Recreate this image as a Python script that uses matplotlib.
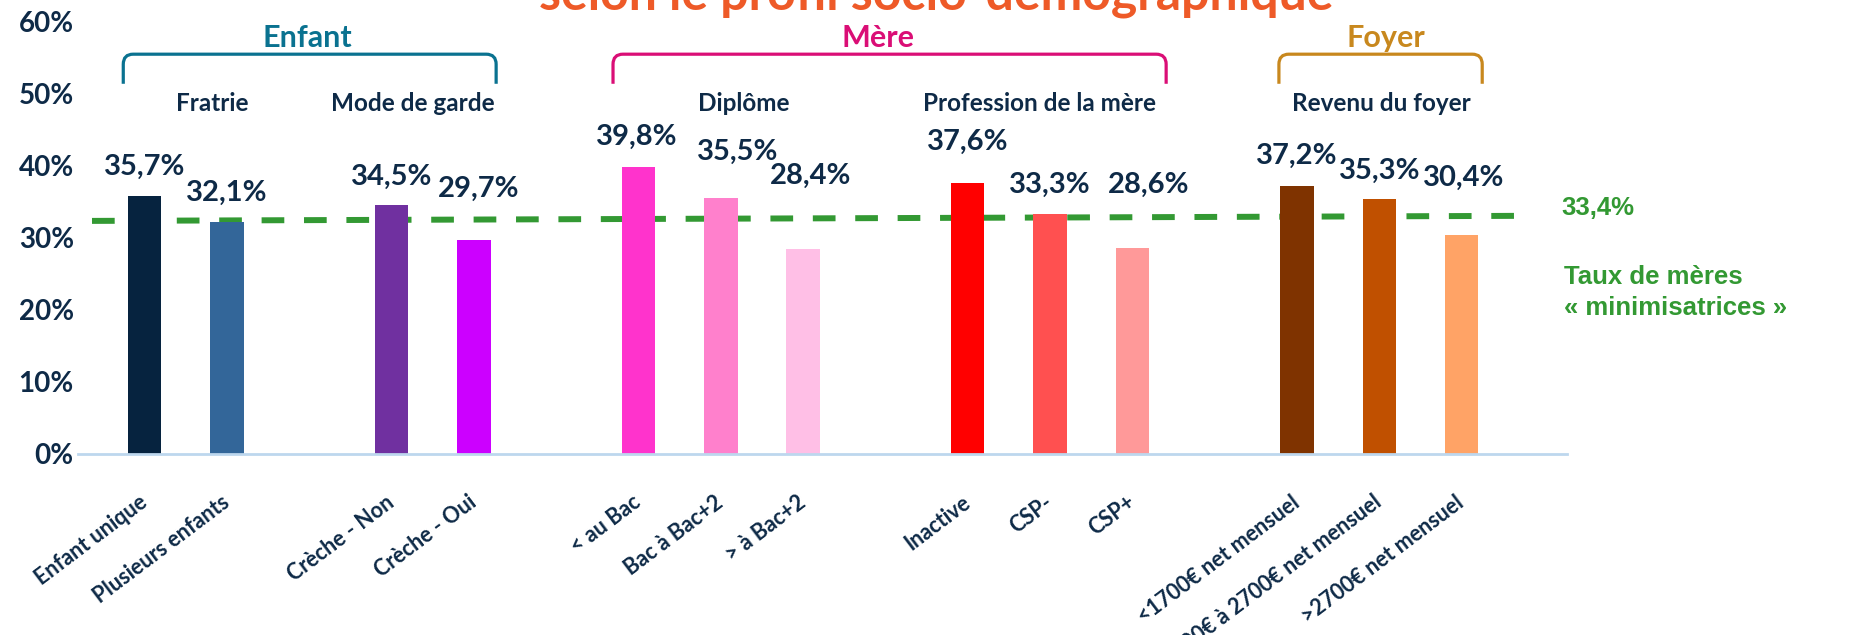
import numpy as np
import matplotlib
matplotlib.use("Agg")
import matplotlib.pyplot as plt
from matplotlib.path import Path
from matplotlib.patches import PathPatch

plt.rcParams['font.family'] = ['Lato', 'DejaVu Sans']

# ---- data ----
categories = ["Enfant unique", "Plusieurs enfants", "Crèche - Non", "Crèche - Oui",
              "< au Bac", "Bac à Bac+2", "> à Bac+2",
              "Inactive", "CSP-", "CSP+",
              "<1700€ net mensuel", "1700€ à 2700€ net mensuel", ">2700€ net mensuel"]
values = [35.7, 32.1, 34.5, 29.7, 39.8, 35.5, 28.4, 37.6, 33.3, 28.6, 37.2, 35.3, 30.4]
subgroups = ["Fratrie", "Mode de garde", "Diplôme", "Profession de la mère", "Revenu du foyer"]
subgroup_sizes = [2, 2, 3, 3, 3]
groups = ["Enfant", "Mère", "Foyer"]
avg_rate = 33.4
avg_line = [32.3, 33.0]   # dashed line as drawn (left end, right end)

# ---- style / layout ----
bar_colors = ["#06233F", "#336699", "#7030A0", "#CC00FF", "#FF33CC", "#FF80CC", "#FFBFE6",
              "#FF0000", "#FF5050", "#FF9999", "#7F3300", "#C05000", "#FFA366"]
navy = "#0E2A47"
green = "#339933"
group_colors = ["#0A7290", "#DA0E76", "#C8881E"]
label_y = [39.8, 36.2, 38.4, 36.7, 43.9, 41.9, 38.5, 43.2, 37.3, 37.3, 41.3, 39.3, 38.2]
label_dx = [0, 0, 0, 0.06, -0.02, 0.2, 0.09, 0, 0, 0.2, 0, 0, 0.03]
sub_x = [0.82, 3.26, 7.28, 10.87, 15.02]
grp_x = [1.97, 8.91, 15.08]
brackets = [(-0.26, 4.27), (5.69, 12.41), (13.78, 16.25)]

# bar slots: one empty slot between subgroups
pos = []
start = 0
for n in subgroup_sizes:
    pos += list(range(start, start + n))
    start += n + 1
pos = np.array(pos)

W, H = 1864, 635
fig = plt.figure(figsize=(W / 100, H / 100), dpi=100)
ax = fig.add_axes([78 / W, 1 - 454 / H, (1567 - 78) / W, (454 - 21) / H])

ax.plot([-0.64, 16.69], avg_line, color=green, lw=4.3, dashes=(3.8, 3.3),
        solid_capstyle='butt', dash_capstyle='butt', zorder=1)
ax.bar(pos, values, width=0.405, color=bar_colors, zorder=2)

for x, v, ly, dx in zip(pos, values, label_y, label_dx):
    ax.text(x + dx, ly, f"{v:.1f}%".replace(".", ","), ha='center', va='center',
            fontsize=21, fontweight='bold', color=navy, zorder=3)

ax.set_xlim(-0.81, 17.28)
ax.set_ylim(0, 60)
ax.set_yticks(np.arange(0, 61, 10))
ax.set_yticklabels([f"{t}%" for t in range(0, 61, 10)])
ax.tick_params(axis='y', length=0, pad=3, labelsize=20, labelcolor=navy)
for lab in ax.get_yticklabels():
    lab.set_fontweight('bold')
ax.set_xticks(pos)
ax.set_xticklabels(categories, rotation=37, ha='right', va='center',
                   rotation_mode='anchor', fontsize=15.5, fontweight='bold', color=navy)
ax.tick_params(axis='x', length=0, pad=33)
for s in ['top', 'left', 'right']:
    ax.spines[s].set_visible(False)
ax.spines['bottom'].set_color("#BDD7EE")
ax.spines['bottom'].set_linewidth(2)

# subgroup headers
for name, x in zip(subgroups, sub_x):
    ax.text(x, 48.5, name, ha='center', va='center', fontsize=17.5,
            fontweight='bold', color=navy, clip_on=False)

# group headers with brackets
dx, dy = 0.12, 1.4
ytop, ybot = 55.4, 51.3
for name, x, (x0, x1), c in zip(groups, grp_x, brackets, group_colors):
    ax.text(x, 57.6, name, ha='center', va='center', fontsize=22,
            fontweight='bold', color=c, clip_on=False)
    verts = [(x0, ybot), (x0, ytop - dy), (x0, ytop), (x0 + dx, ytop),
             (x1 - dx, ytop), (x1, ytop), (x1, ytop - dy), (x1, ybot)]
    codes = [Path.MOVETO, Path.LINETO, Path.CURVE3, Path.CURVE3,
             Path.LINETO, Path.CURVE3, Path.CURVE3, Path.LINETO]
    ax.add_patch(PathPatch(Path(verts, codes), fill=False, edgecolor=c, lw=2.3,
                           clip_on=False, capstyle='butt'))

# right-hand annotation
ax.text(17.65, 34.1, f"{avg_rate:.1f}%".replace(".", ","), ha='center', va='center',
        fontsize=18.5, fontweight='bold', color=green, family='Liberation Sans', clip_on=False)
ax.text(17.24, 24.5, "Taux de mères", ha='left', va='center', fontsize=18.5,
        fontweight='bold', color=green, family='Liberation Sans', clip_on=False)
ax.text(17.24, 20.2, "« minimisatrices »", ha='left', va='center', fontsize=18.5,
        fontweight='bold', color=green, family='Liberation Sans', clip_on=False)

# title, cut off by the top edge as in the source
fig.text(936 / W, 1 - 10 / H, "selon le profil socio-démographique", ha='center',
         va='baseline', fontsize=36, fontweight='bold', color="#EE5A28")

fig.savefig("out.png", dpi=100, facecolor='white')
